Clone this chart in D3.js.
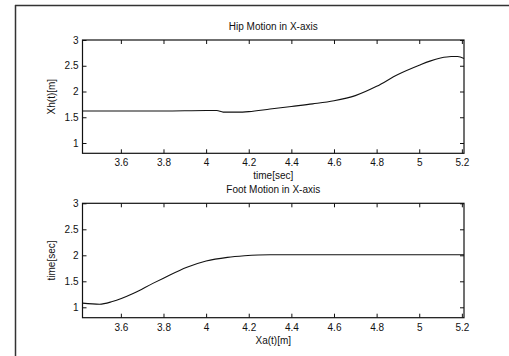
<!DOCTYPE html>
<meta charset="utf-8">
<style>
  body { margin: 0; background: #fff; }
  text { font-family: "Liberation Sans", Arial, sans-serif; fill: #111; }
</style>
<script src="https://d3js.org/d3.v7.min.js"></script>
<div id="chart"></div>
<script>

// hip motion, top panel
var hipT = [3.42, 3.6, 3.8, 4.0, 4.05, 4.08, 4.15, 4.2, 4.3, 4.4, 4.5, 4.6, 4.7, 4.8, 4.9, 5.0, 5.05, 5.1, 5.15, 5.18, 5.21];
var hipX = [1.62, 1.62, 1.62, 1.63, 1.63, 1.60, 1.60, 1.61, 1.66, 1.71, 1.76, 1.82, 1.92, 2.10, 2.33, 2.51, 2.59, 2.65, 2.68, 2.68, 2.64];

// foot motion, bottom panel
var footT = [3.42, 3.5, 3.56, 3.66, 3.75, 3.8, 3.91, 4.0, 4.1, 4.18, 4.3, 4.6, 5.0, 5.21];
var footX = [1.08, 1.06, 1.11, 1.27, 1.46, 1.56, 1.77, 1.89, 1.96, 1.99, 2.01, 2.01, 2.01, 2.01];

var xTicks = [3.6, 3.8, 4, 4.2, 4.4, 4.6, 4.8, 5, 5.2];
var yTicks = [1, 1.5, 2, 2.5, 3];

var W = 509, H = 356;

var svg = d3.select("#chart")
  .append("svg")
    .attr("width", W)
    .attr("height", H);

svg.append("rect").attr("width", W).attr("height", H).attr("fill", "#fff");

// scanned page frame
svg.append("line")
  .attr("x1", 15).attr("x2", W).attr("y1", 5.5).attr("y2", 5.5)
  .attr("stroke", "#333").attr("stroke-width", 1.5);
svg.append("line")
  .attr("x1", 15.5).attr("x2", 15.5).attr("y1", 5).attr("y2", H)
  .attr("stroke", "#333").attr("stroke-width", 1.5);

function panel(top, bottom, xs, ys, title, xlabel, ylabel) {
  var left = 82.5, right = 464;

  var x = d3.scaleLinear().domain([3.42, 5.21]).range([left, right]);
  var y = d3.scaleLinear().domain([0.8, 3]).range([bottom, top]);

  var g = svg.append("g");

  g.append("g")
    .attr("transform", "translate(0," + bottom + ")")
    .call(d3.axisBottom(x).tickValues(xTicks).tickFormat(d3.format("")).tickSizeInner(-4).tickSizeOuter(0).tickPadding(6))
    .call(function (a) { a.select(".domain").remove(); });

  g.append("g")
    .attr("transform", "translate(0," + top + ")")
    .call(d3.axisTop(x).tickValues(xTicks).tickFormat("").tickSizeInner(-4).tickSizeOuter(0))
    .call(function (a) { a.select(".domain").remove(); });

  g.append("g")
    .attr("transform", "translate(" + left + ",0)")
    .call(d3.axisLeft(y).tickValues(yTicks).tickFormat(d3.format("")).tickSizeInner(-4).tickSizeOuter(0).tickPadding(4))
    .call(function (a) { a.select(".domain").remove(); });

  g.append("g")
    .attr("transform", "translate(" + right + ",0)")
    .call(d3.axisRight(y).tickValues(yTicks).tickFormat("").tickSizeInner(-4).tickSizeOuter(0))
    .call(function (a) { a.select(".domain").remove(); });

  g.selectAll(".tick line").attr("stroke", "#111");
  g.selectAll(".tick text")
    .attr("font-size", "10px")
    .attr("font-family", "Liberation Sans, Arial, sans-serif")
    .attr("fill", "#111");

  g.append("rect")
    .attr("x", left).attr("y", top)
    .attr("width", right - left).attr("height", bottom - top)
    .attr("fill", "none").attr("stroke", "#111").attr("stroke-width", 1.2);

  var pts = xs.map(function (d, i) { return [d, ys[i]]; });
  g.append("path")
    .datum(pts)
    .attr("fill", "none")
    .attr("stroke", "#111")
    .attr("stroke-width", 1.1)
    .attr("d", d3.line()
      .x(function (d) { return x(d[0]); })
      .y(function (d) { return y(d[1]); })
      .curve(d3.curveMonotoneX));

  var cx = (left + right) / 2;
  g.append("text")
    .attr("x", cx).attr("y", top - 10)
    .attr("text-anchor", "middle")
    .attr("font-size", "10px")
    .text(title);

  g.append("text")
    .attr("x", cx).attr("y", bottom + 26)
    .attr("text-anchor", "middle")
    .attr("font-size", "10px")
    .text(xlabel);

  g.append("text")
    .attr("transform", "translate(55," + ((top + bottom) / 2) + ") rotate(-90)")
    .attr("text-anchor", "middle")
    .attr("font-size", "10px")
    .text(ylabel);
}

panel(40, 153.3, hipT, hipX, "Hip Motion in X-axis", "time[sec]", "Xh(t)[m]");
panel(203.3, 317.7, footT, footX, "Foot Motion in X-axis", "Xa(t)[m]", "time[sec]");

</script>
